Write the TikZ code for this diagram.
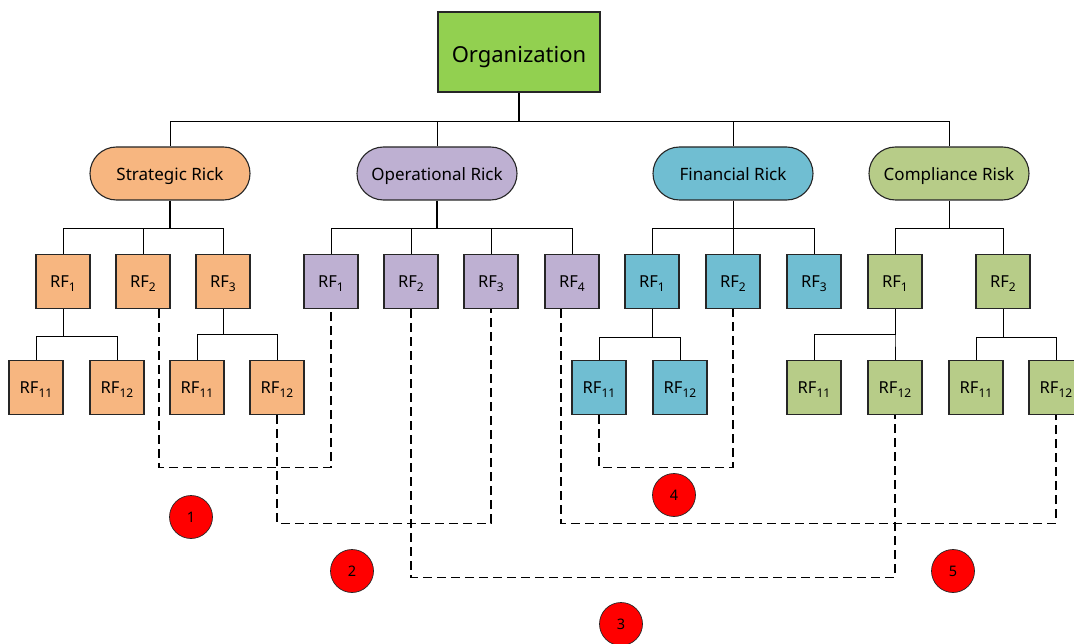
\documentclass[tikz,border=0pt]{standalone}
\usepackage{fontspec}
\setmainfont{Noto Sans}
\usetikzlibrary{calc}
\definecolor{orggreen}{HTML}{92D050}
\definecolor{strat}{HTML}{F7B680}
\definecolor{oper}{HTML}{BEB0D2}
\definecolor{fin}{HTML}{70BED2}
\definecolor{comp}{HTML}{B7CC88}
\definecolor{edge}{HTML}{262626}
\newcommand{\rfl}[1]{RF\raisebox{-0.45ex}{\fontsize{12}{12}\selectfont #1}}
\tikzset{
  orgbox/.style={draw=edge, line width=1.1pt, fill=orggreen, minimum width=162pt, minimum height=80pt, inner sep=0pt, text height=15pt, text depth=0pt, font=\fontsize{22}{24}\selectfont},
  pill/.style={draw=edge, line width=1.1pt, rounded corners=26.5pt, minimum width=160pt, minimum height=53pt, inner sep=0pt, text height=12pt, text depth=0pt, font=\fontsize{17}{19}\selectfont},
  rfbox/.style={draw=edge, line width=1.1pt, minimum width=54pt, minimum height=54pt, inner sep=0pt, text height=11.5pt, text depth=0pt, font=\fontsize{16.5}{19}\selectfont},
  badge/.style={circle, draw=edge, line width=0.7pt, fill=red, minimum size=43pt, inner sep=0pt, text height=10pt, text depth=0pt, font=\fontsize{14.5}{16}\selectfont},
  tree/.style={draw=black, line width=0.8pt},
  trunk/.style={draw=black, line width=1.6pt},
  link/.style={draw=black, line width=1.1pt, dash pattern=on 9pt off 5pt},
}
\begin{document}
\begin{tikzpicture}[x=1pt, y=-1pt]
\useasboundingbox (0,0) rectangle (1074,644);

% root
\node[orgbox] (org) at (519,52) {\raisebox{-3pt}{Organization}};

% risk categories
\node[pill, fill=strat] (sr) at (170,173.5) {\raisebox{-1pt}{Strategic Rick}};
\node[pill, fill=oper]  (or) at (437,173.5) {\raisebox{-1pt}{Operational Rick}};
\node[pill, fill=fin]   (fr) at (733,173.5) {\raisebox{-1pt}{Financial Rick}};
\node[pill, fill=comp]  (cr) at (949,173.5) {\raisebox{-1pt}{Compliance Risk}};

% risk factors, first level
\node[rfbox, fill=strat] (s1) at (63,281.5)  {\rfl{1}};
\node[rfbox, fill=strat] (s2) at (143,281.5) {\rfl{2}};
\node[rfbox, fill=strat] (s3) at (223,281.5) {\rfl{3}};
\node[rfbox, fill=oper] (o1) at (331,281.5) {\rfl{1}};
\node[rfbox, fill=oper] (o2) at (411,281.5) {\rfl{2}};
\node[rfbox, fill=oper] (o3) at (491,281.5) {\rfl{3}};
\node[rfbox, fill=oper] (o4) at (572,281.5) {\rfl{4}};
\node[rfbox, fill=fin] (f1) at (652,281.5) {\rfl{1}};
\node[rfbox, fill=fin] (f2) at (733,281.5) {\rfl{2}};
\node[rfbox, fill=fin] (f3) at (814,281.5) {\rfl{3}};
\node[rfbox, fill=comp] (c1) at (895,281.5)  {\rfl{1}};
\node[rfbox, fill=comp] (c2) at (1003,281.5) {\rfl{2}};

% risk factors, second level
\node[rfbox, fill=strat] (s1a) at (36,387.5)  {\rfl{11}};
\node[rfbox, fill=strat] (s1b) at (117,387.5) {\rfl{12}};
\node[rfbox, fill=strat] (s3a) at (197,387.5) {\rfl{11}};
\node[rfbox, fill=strat] (s3b) at (277,387.5) {\rfl{12}};
\node[rfbox, fill=fin] (f1a) at (599,387.5) {\rfl{11}};
\node[rfbox, fill=fin] (f1b) at (680,387.5) {\rfl{12}};
\node[rfbox, fill=comp] (c1a) at (814,387.5)  {\rfl{11}};
\node[rfbox, fill=comp] (c1b) at (895,387.5)  {\rfl{12}};
\node[rfbox, fill=comp] (c2a) at (976,387.5)  {\rfl{11}};
\node[rfbox, fill=comp] (c2b) at (1056,387.5) {\rfl{12}};

% root to categories
\draw[trunk] (org.south) -- ++(0,29) coordinate (bus);
\foreach \n in {sr,or,fr,cr} \draw[tree] (bus) -| (\n.north);

% categories to first-level factors
\draw[trunk] (sr.south) -- ++(0,28);
\foreach \n in {s1,s2,s3} \draw[tree] (sr.south) ++(0,28) -| (\n.north);
\draw[trunk] (or.south) -- ++(0,28);
\foreach \n in {o1,o2,o3,o4} \draw[tree] (or.south) ++(0,28) -| (\n.north);
\draw[tree] (fr.south) -- ++(0,28);
\foreach \n in {f1,f2,f3} \draw[tree] (fr.south) ++(0,28) -| (\n.north);
\draw[tree] (cr.south) -- ++(0,28);
\foreach \n in {c1,c2} \draw[tree] (cr.south) ++(0,28) -| (\n.north);

% first-level to second-level factors
\foreach \p/\a/\b/\d in {s1/s1a/s1b/27, s3/s3a/s3b/25, f1/f1a/f1b/28, c1/c1a/c1b/25, c2/c2a/c2b/28} {
  \draw[tree] (\p.south) -- ++(0,\d) -| (\a.north);
  \draw[tree] (\p.south) -- ++(0,\d) -| (\b.north);
}

% cross-category links
\draw[link] ([xshift=16pt]s2.south) -- ++(0,158) -| (o1.south);
\draw[link] (s3b.south) -- ++(0,108) -| (o3.south);
\draw[link] (o2.south) -- ++(0,268) -| (c1b.south);
\draw[link] (f1a.south) -- ++(0,52) -| (f2.south);
\draw[link] ([xshift=-11pt]o4.south) -- ++(0,214) -| (c2b.south);

% link numbers
\node[badge] (n1) at (191,517) {1};
\node[badge] (n2) at (352,571) {2};
\node[badge] (n3) at (621,624) {3};
\node[badge] (n4) at (674,495) {4};
\node[badge] (n5) at (953,571) {5};
\end{tikzpicture}
\end{document}
